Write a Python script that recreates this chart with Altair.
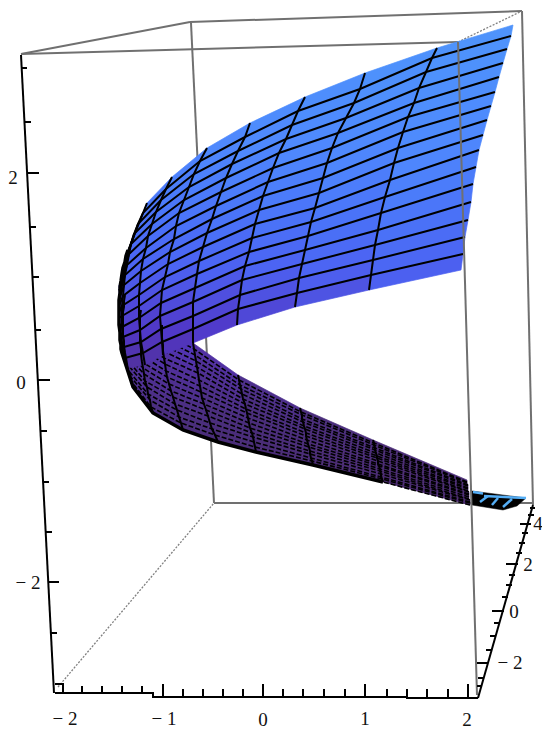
import altair as alt
import pandas as pd

# Mesh of the surface. One list per cross-curve (right edge to fold),
# each holding the position on the 17 long curves.
UPPER_X = [
    [513,511,507,503,499,495,491,487,483,479,476,473,471,468,465,463,461],
    [437,432,426,419,414,408,403,398,394,390,385,381,378,375,373,371,369],
    [365,360,354,346,338,332,327,323,319,315,311,308,305,302,299,297,295],
    [305,298,292,286,279,273,268,263,259,255,252,249,245,242,240,238,237],
    [250,245,238,232,226,221,216,212,207,203,199,197,195,193,193,193,193],
    [207,200,194,189,184,179,176,174,170,168,165,162,161,160,161,162,163],
    [172,166,161,156,152,148,146,143,141,140,139,139,139,140,141,143,145],
    [147,143,138,134,131,129,127,125,124,123,122,122,122,123,124,125,127],
    [128,126,125,123,122,121,120,120,119,119,119,119,119,120,120,121,122],
]
UPPER_Y = [
    [25,36,49,63,77,92,106,120,135,150,167,184,202,220,237,254,270],
    [48,58,72,88,103,117,132,148,163,180,197,213,230,245,260,275,290],
    [73,89,103,118,133,148,163,178,193,208,222,236,250,264,278,293,307],
    [97,111,125,139,153,168,182,196,210,224,238,252,266,280,295,309,325],
    [123,137,151,164,178,192,206,219,233,247,261,274,288,302,316,329,343],
    [148,161,174,187,200,213,226,239,252,264,277,290,303,316,329,342,355],
    [177,189,200,212,224,236,248,259,271,283,295,306,318,330,342,353,365],
    [203,213,224,234,244,254,265,275,285,296,306,316,327,337,347,358,368],
    [250,256,262,268,274,281,287,293,300,306,312,318,325,332,338,345,352],
]
LOWER_X = [
    [467,467,467,468,468,468,468,468,469,469,469,469,469,470,470,470,470],
    [373,374,374,375,375,376,377,377,378,378,379,380,380,381,381,382,383],
    [300,301,302,302,303,304,305,306,306,307,308,309,310,310,311,312,313],
    [238,239,240,241,242,243,245,246,247,248,249,250,252,253,254,255,256],
    [193,194,195,196,197,198,199,200,201,202,204,206,208,210,212,215,218],
    [162,162,162,163,163,164,165,166,167,169,171,173,175,177,179,181,183],
    [141,140,140,140,140,140,141,141,142,143,144,145,147,148,150,151,153],
    [125,124,124,123,123,123,123,123,124,124,125,126,127,128,130,131,133],
    [119,119,119,119,119,119,119,119,119,119,120,120,120,120,121,121,122],
]
LOWER_Y = [
    [480,482,483,485,486,488,489,491,492,494,495,497,499,500,502,503,505],
    [440,443,445,448,450,453,456,458,461,464,466,469,471,474,477,479,482],
    [408,412,415,419,422,426,429,433,436,440,444,447,451,454,458,461,465],
    [375,380,385,389,394,399,404,409,413,418,423,428,433,437,442,447,452],
    [343,349,355,361,367,373,380,386,392,398,404,410,416,423,429,435,442],
    [325,332,338,345,351,358,364,371,377,384,391,397,404,410,417,423,430],
    [310,316,323,329,336,342,349,355,362,368,374,381,387,394,400,407,413],
    [295,301,307,312,318,324,330,335,341,347,353,358,364,370,376,381,387],
    [285,289,294,298,302,306,311,315,319,323,328,332,336,340,345,349,353],
]
TIP_OUTLINE = [[472,491],[526,498],[517,506],[503,510],[472,505]]
TIP_STRIPES = [
    [[473,492],[483,493.5]], [[484,496],[526,498]],
    [[480,502],[488,496]], [[492,505],[498,498]], [[503,507],[512,499]],
]
SHADE_Y = [25, 150, 270, 330, 370, 420, 505]
SHADE_C = ["#4f95fb", "#4f88fd", "#4c62f2", "#5038c8", "#50309a", "#4a2e7c", "#4a2a6e"]

BACK_EDGES = [
    [[21,54],[190,22]], [[190,22],[522,11]],
    [[191,23],[214,503]], [[522,11],[533,505]], [[214,503],[533,503]],
]
FRONT_EDGES = [
    [[21,54],[458,42]], [[458,42],[477,695]],
]
DOTTED_EDGES = [[[58,687],[214,503]], [[458,42],[522,11]]]
AXES = [
    [[21,55],[54,693]],
    [[55,693],[153,693],[153,697],[407,697],[407,698],[478,698]],
    [[478,698],[533,505]],
    [[55,684],[63,684],[63,693]],
]
LEFT_TICK_Y = [68,122,173,227,277,330,380,431,482,532,582,633]
LEFT_TICK_X = [22,25,27,30,33,35,38,41,43,46,49,51]
LEFT_TICK_END = [27,31,39,36,39,41,50,47,49,52,59,57]
BOTTOM_TICK_X = [82,102,122,142,163,183,203,223,243,263,283,303,324,345,365,387,407,427,448,468]
BOTTOM_TICK_Y0 = [693,693,693,693,696,696,696,696,696,696,696,696,696,696,696,696,697,697,697,697]
BOTTOM_TICK_Y1 = [686,686,686,686,684,689,689,689,689,684,689,689,689,689,684,689,689,689,689,684]
RIGHT_TICK_Y = [686,678,663,650,636,623,611,597,585,575,564,553,543,533,524,515,508]
RIGHT_TICK_X = [481,484,488,492,496,500,504,508,512,515,518,522,525,528,531,534,535]
RIGHT_TICK_END = [477,478,477,486,490,494,492,502,506,509,506,516,519,522,520,528,530]

LABELS = ["2","0","\u2212 2","\u2212 2","\u2212 1","0","1","2","4","2","0","\u2212 2"]
LABEL_X = [13,21,28,65,164,263,365,467,538,528,514,510]
LABEL_Y = [178,383,583,719,719,720,719,720,524,565,612,663]

X = alt.Scale(domain=[8, 542], range=[0, 534], nice=False, zero=False)
Y = alt.Scale(domain=[8, 729], range=[0, 721], nice=False, zero=False)


def quads(xs, ys):
    feats = []
    for k in range(len(xs) - 1):
        for j in range(len(xs[0]) - 1):
            pts = [[xs[k][j], ys[k][j]], [xs[k+1][j], ys[k+1][j]],
                   [xs[k+1][j+1], ys[k+1][j+1]], [xs[k][j+1], ys[k][j+1]]]
            shade = sum(p[1] for p in pts) / 4
            feats.append({"type": "Feature", "properties": {"shade": shade},
                          "geometry": {"type": "Polygon", "coordinates": [pts + [pts[0]]]}})
    return feats


def lines_frame(polys):
    rows = []
    for n, poly in enumerate(polys):
        for i, (px, py) in enumerate(poly):
            rows.append({"x": px, "y": py, "g": n, "i": i})
    return pd.DataFrame(rows)


def line_layer(polys, **mark):
    return alt.Chart(lines_frame(polys)).mark_line(interpolate="linear", **mark).encode(
        x=alt.X("x:Q", scale=X, axis=None),
        y=alt.Y("y:Q", scale=Y, axis=None),
        detail="g:N",
        order="i:Q",
    )


PROJ = alt.Projection(type="identity", scale=1, translate=[-8, -8])
SHADE = alt.Scale(domain=SHADE_Y, range=SHADE_C)


def surface(feats):
    return alt.Chart(alt.Data(values=feats)).mark_geoshape(strokeWidth=0.7).encode(
        fill=alt.Fill("properties.shade:Q", scale=SHADE, legend=None),
        stroke=alt.Stroke("properties.shade:Q", scale=SHADE, legend=None),
    ).project(**PROJ.to_dict())


def polygon(pts, color):
    f = {"type": "Feature", "properties": {},
         "geometry": {"type": "Polygon", "coordinates": [pts + [pts[0]]]}}
    return alt.Chart(alt.Data(values=[f])).mark_geoshape(fill=color, stroke=color, strokeWidth=0.5).project(**PROJ.to_dict())


rows_n = len(UPPER_X[0])
st_n = len(UPPER_X)
upper_long = [[[UPPER_X[k][j], UPPER_Y[k][j]] for k in range(st_n)] for j in range(1, rows_n - 1)]
lower_long = [[[LOWER_X[k][j], LOWER_Y[k][j]] for k in range(st_n)] for j in range(1, rows_n)]
cross = []
for k in range(1, st_n - 1):
    cross.append([[UPPER_X[k][j], UPPER_Y[k][j]] for j in range(rows_n)])
    cross.append([[LOWER_X[k][j], LOWER_Y[k][j]] for j in range(rows_n)])

# the black rim where the dense mesh folds over
rim = [[[UPPER_X[8][j], UPPER_Y[8][j]] for j in range(rows_n)] +
       [[LOWER_X[8][j], LOWER_Y[8][j]] for j in range(rows_n - 8, rows_n)] +
       [[LOWER_X[k][rows_n - 1], LOWER_Y[k][rows_n - 1]] for k in range(7, 0, -1)]]

left_ticks = [[[a, y], [b, y]] for a, b, y in zip(LEFT_TICK_X, LEFT_TICK_END, LEFT_TICK_Y)]
right_ticks = [[[a, y], [b, y]] for a, b, y in zip(RIGHT_TICK_X, RIGHT_TICK_END, RIGHT_TICK_Y)]
bottom_ticks = [[[x, a], [x, b]] for x, a, b in zip(BOTTOM_TICK_X, BOTTOM_TICK_Y0, BOTTOM_TICK_Y1)]

labels = alt.Chart(pd.DataFrame({"t": LABELS, "x": LABEL_X, "y": LABEL_Y})).mark_text(
    font="Liberation Serif", fontSize=19, color="#111111", align="center", baseline="middle"
).encode(x=alt.X("x:Q", scale=X, axis=None), y=alt.Y("y:Q", scale=Y, axis=None), text="t:N")

chart = alt.layer(
    line_layer(BACK_EDGES, color="#707070", strokeWidth=2),
    line_layer(DOTTED_EDGES, color="#808080", strokeWidth=1.3, strokeDash=[2, 1.5]),
    line_layer(FRONT_EDGES[:1], color="#707070", strokeWidth=2),
    surface(quads(LOWER_X, LOWER_Y)),
    line_layer(lower_long, color="#000000", strokeWidth=1.6, strokeDash=[5, 2]),
    surface(quads(UPPER_X[:5], UPPER_Y[:5])),
    surface(quads(UPPER_X[4:], UPPER_Y[4:])),
    polygon(TIP_OUTLINE, "#000000"),
    line_layer(TIP_STRIPES, color="#55aef5", strokeWidth=2.5),
    line_layer(upper_long, color="#000000", strokeWidth=2),
    line_layer(cross, color="#000000", strokeWidth=2),
    line_layer(rim, color="#000000", strokeWidth=3.5),
    line_layer(FRONT_EDGES[1:], color="#707070", strokeWidth=2),
    line_layer(AXES, color="#000000", strokeWidth=2),
    line_layer(left_ticks, color="#000000", strokeWidth=2),
    line_layer(right_ticks, color="#000000", strokeWidth=2),
    line_layer(bottom_ticks, color="#000000", strokeWidth=2),
    labels,
).properties(width=534, height=721, padding=0, autosize=alt.AutoSizeParams(type="none")).configure_view(strokeWidth=0)

chart.save("out.html", embed_options={"renderer": "svg", "actions": False})
